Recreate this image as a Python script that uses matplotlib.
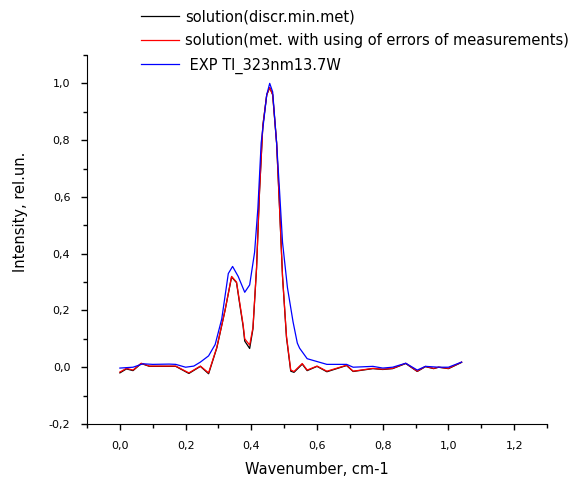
import matplotlib
matplotlib.use('Agg')
import matplotlib.pyplot as plt
from matplotlib.ticker import MultipleLocator, FuncFormatter

plt.rcParams['font.family'] = ['DejaVu Sans']
plt.rcParams['font.size'] = 8

# EXP Tl_323nm13.7W
x_exp = [0.0, 0.04, 0.07, 0.1, 0.15, 0.17, 0.2, 0.225, 0.245, 0.27, 0.29, 0.31,
         0.33, 0.343, 0.36, 0.38, 0.395, 0.41, 0.42, 0.43, 0.447, 0.456, 0.465,
         0.477, 0.486, 0.495, 0.51, 0.527, 0.54, 0.547, 0.57, 0.6, 0.63, 0.69,
         0.71, 0.77, 0.8, 0.83, 0.87, 0.905, 0.93, 0.97, 1.0, 1.04]
y_exp = [-0.003, 0.0, 0.012, 0.01, 0.011, 0.01, 0.0, 0.004, 0.018, 0.04, 0.08, 0.17,
         0.33, 0.355, 0.32, 0.264, 0.29, 0.405, 0.56, 0.79, 0.96, 1.0, 0.97,
         0.79, 0.62, 0.44, 0.28, 0.16, 0.085, 0.067, 0.03, 0.02, 0.01, 0.01,
         0.0, 0.003, -0.003, 0.0, 0.014, -0.01, 0.003, 0.0, 0.0, 0.018]

# solutions
x_sol = [0.0, 0.02, 0.04, 0.065, 0.09, 0.17, 0.21, 0.245, 0.27, 0.295, 0.32, 0.34,
         0.355, 0.365, 0.375, 0.38, 0.395, 0.405, 0.416, 0.425, 0.435, 0.447,
         0.456, 0.465, 0.477, 0.486, 0.495, 0.507, 0.52, 0.53, 0.555, 0.57, 0.6,
         0.63, 0.69, 0.71, 0.77, 0.8, 0.83, 0.87, 0.905, 0.93, 0.955, 0.97, 1.0, 1.04]
y_err = [-0.017, -0.004, -0.01, 0.014, 0.004, 0.004, -0.02, 0.004, -0.02, 0.07, 0.2, 0.32,
         0.3, 0.225, 0.15, 0.1, 0.078, 0.14, 0.35, 0.62, 0.85, 0.96,
         0.985, 0.96, 0.79, 0.56, 0.32, 0.11, -0.01, -0.015, 0.013, -0.01, 0.004,
         -0.014, 0.007, -0.014, -0.004, -0.007, -0.004, 0.014, -0.014, 0.003, -0.004, 0.0, -0.004, 0.018]
y_discr = [-0.02, -0.006, -0.012, 0.013, 0.003, 0.003, -0.022, 0.003, -0.023, 0.068, 0.2, 0.318,
           0.298, 0.22, 0.145, 0.092, 0.066, 0.135, 0.35, 0.62, 0.85, 0.96,
           0.985, 0.96, 0.79, 0.56, 0.32, 0.105, -0.014, -0.018, 0.011, -0.012, 0.003,
           -0.016, 0.006, -0.015, -0.005, -0.008, -0.005, 0.013, -0.015, 0.002, -0.005, 0.0, -0.005, 0.017]

fig = plt.figure(figsize=(5.86, 4.78), dpi=100)
ax = fig.add_axes([0.1485, 0.113, 0.785, 0.772])

l1, = ax.plot(x_sol, y_discr, color='black', lw=0.9, label='solution(discr.min.met)')
l2, = ax.plot(x_sol, y_err, color='red', lw=0.9,
              label='solution(met. with using of errors of measurements)')
l3, = ax.plot(x_exp, y_exp, color='blue', lw=0.9, label=' EXP Tl_323nm13.7W')

ax.spines['top'].set_visible(False)
ax.spines['right'].set_visible(False)

ax.xaxis.set_minor_locator(MultipleLocator(0.1))
ax.yaxis.set_minor_locator(MultipleLocator(0.1))
comma = FuncFormatter(lambda v, p: ('%.1f' % v).replace('.', ',').replace('-0,0', '0,0'))
ax.xaxis.set_major_formatter(comma)
ax.yaxis.set_major_formatter(comma)
ax.tick_params(which='major', direction='out', length=4, width=1, pad=8)
ax.tick_params(which='minor', direction='out', length=3, width=1)
ax.set_xticks([t / 10 for t in range(0, 13, 2)])
ax.set_xlim(-0.1, 1.3)
ax.set_yticks([t / 10 for t in range(-2, 11, 2)])
ax.set_ylim(-0.2, 1.1)

ax.set_xlabel('Wavenumber, cm-1', fontsize=10.5, labelpad=8)
ax.set_ylabel('Intensity, rel.un.', fontsize=10.5)
ax.yaxis.set_label_coords(-0.128, 0.575)

fig.legend(handles=[l1, l2, l3], loc='upper left', bbox_to_anchor=(0.218, 1.008),
           frameon=False, fontsize=10.5, handlelength=2.6, handletextpad=0.45,
           labelspacing=0.62)

fig.savefig('out.png', dpi=100)
